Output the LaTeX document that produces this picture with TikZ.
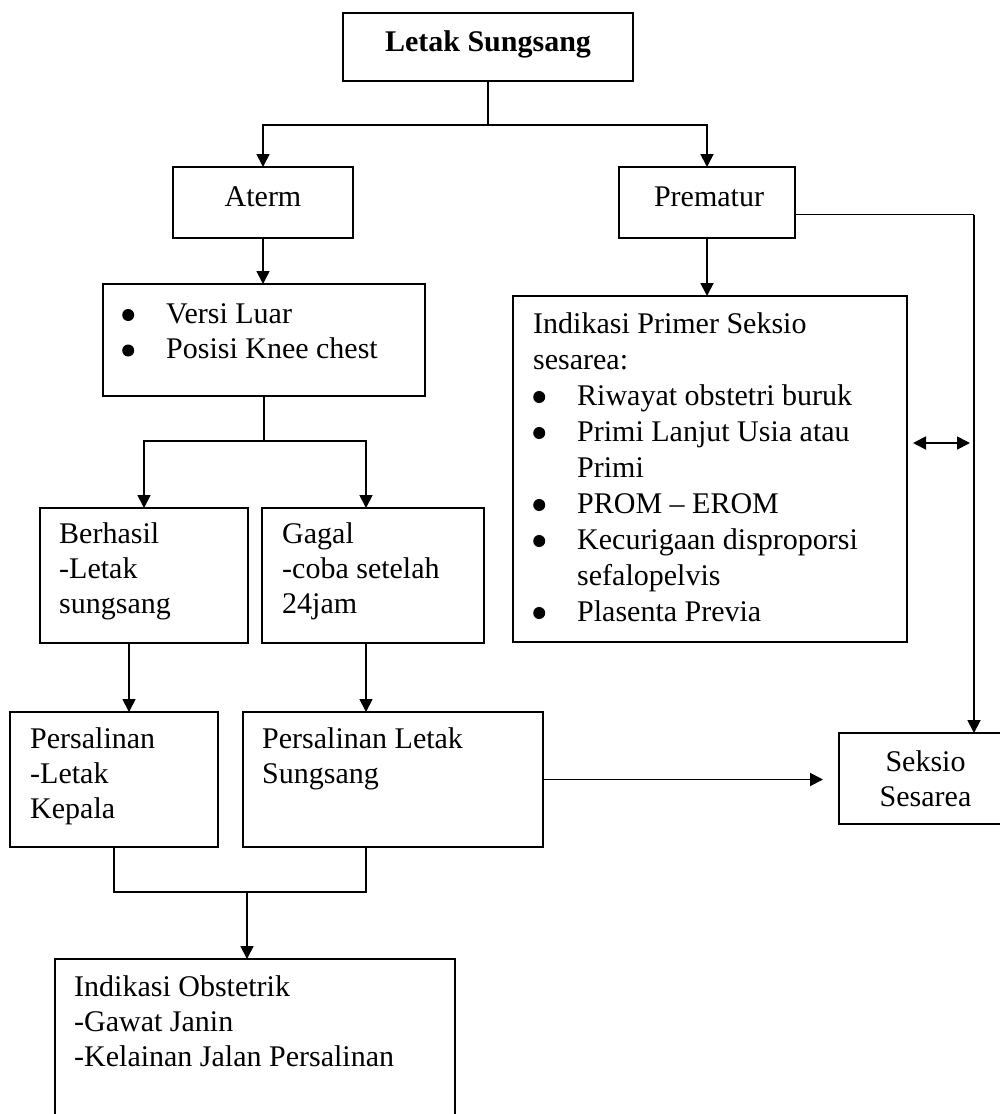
\documentclass[tikz,border=0pt]{standalone}
\usepackage{fontspec}
\setmainfont{Liberation Serif}
\usetikzlibrary{arrows.meta,calc}
\newcommand\bul{\makebox[44pt][l]{\tikz[x=1pt,y=1pt,baseline={(0,0)}]\fill (6,8) circle (6pt);}}
\begin{document}
\begin{tikzpicture}[x=1pt,y=-1pt,
  font=\fontsize{30}{35.5}\selectfont,
  box/.style={draw, line width=1.8pt, inner sep=0pt, outer sep=0pt},
  txt/.style={anchor=base west, inner sep=0pt},
  ctxt/.style={anchor=base, inner sep=0pt},
  ln/.style={line width=1.8pt},
  arr/.style={line width=1.8pt, -{Triangle[length=13pt,width=13pt]}},
  dblarr/.style={line width=1.8pt, {Triangle[length=13pt,width=13pt]}-{Triangle[length=13pt,width=13pt]}}]
\useasboundingbox (0,0) rectangle (1000,1114);
% boxes
\node[box, minimum width=290pt, minimum height=68pt] (top) at (488,47) {};
\node[box, minimum width=180pt, minimum height=71pt] (aterm) at (263,202.5) {};
\node[box, minimum width=176pt, minimum height=71pt] (premat) at (707,202.5) {};
\node[box, minimum width=322pt, minimum height=112pt] (versi) at (264,340) {};
\node[box, minimum width=394pt, minimum height=346pt] (primer) at (710,469) {};
\node[box, minimum width=208pt, minimum height=135pt] (berhasil) at (144,575.5) {};
\node[box, minimum width=222pt, minimum height=135pt] (gagal) at (373,575.5) {};
\node[box, minimum width=208pt, minimum height=135pt] (kepala) at (114,779.5) {};
\node[box, minimum width=300pt, minimum height=135pt] (plsung) at (393,779.5) {};
\node[box, minimum width=172pt, minimum height=91pt] (seksio) at (925,778.5) {};
\node[box, minimum width=400pt, minimum height=170pt] (obst) at (255,1044) {};
% texts
\node[ctxt, font=\fontsize{30}{35.5}\selectfont\bfseries] (tTop) at (488,51) {Letak Sungsang};
\node[ctxt] (tAterm) at (263,206) {Aterm};
\node[ctxt] (tPremat) at (709,206) {Prematur};
\node[txt] (tVersi) at (122,323) {\begin{tabular}[t]{@{}l@{}}\bul Versi Luar\\\bul Posisi Knee chest\end{tabular}};
\node[txt, font=\fontsize{30}{36}\selectfont] (tPrimer) at (533,333) {\begin{tabular}[t]{@{}l@{}}Indikasi Primer Seksio\\sesarea:\\\bul Riwayat obstetri buruk\\\bul Primi Lanjut Usia atau\\\hspace*{44pt}Primi\\\bul PROM – EROM\\\bul Kecurigaan disproporsi\\\hspace*{44pt}sefalopelvis\\\bul Plasenta Previa\end{tabular}};
\node[txt, font=\fontsize{30}{35}\selectfont] (tBerhasil) at (59,543) {\begin{tabular}[t]{@{}l@{}}Berhasil\\-Letak\\sungsang\end{tabular}};
\node[txt, font=\fontsize{30}{35}\selectfont] (tGagal) at (282,543) {\begin{tabular}[t]{@{}l@{}}Gagal\\-coba setelah\\24jam\end{tabular}};
\node[txt, font=\fontsize{30}{35}\selectfont] (tKepala) at (30,748) {\begin{tabular}[t]{@{}l@{}}Persalinan\\-Letak\\Kepala\end{tabular}};
\node[txt, font=\fontsize{30}{35}\selectfont] (tPlsung) at (262,748) {\begin{tabular}[t]{@{}l@{}}Persalinan Letak\\Sungsang\end{tabular}};
\node[ctxt, font=\fontsize{30}{35}\selectfont] (tSeksio) at (925.5,771) {\begin{tabular}[t]{@{}c@{}}Seksio\\Sesarea\end{tabular}};
\node[txt, font=\fontsize{30}{35}\selectfont] (tObst) at (74,996) {\begin{tabular}[t]{@{}l@{}}Indikasi Obstetrik\\-Gawat Janin\\-Kelainan Jalan Persalinan\end{tabular}};
% connectors
\draw[arr] (top.south) -- ++(0,44) -| (aterm.north);
\draw[arr] (top.south) -- ++(0,44) -| (premat.north);
\draw[arr] (aterm.south) -- (aterm.south |- versi.north);
\draw[arr] (premat.south) -- (premat.south |- primer.north);
\draw[ln] ($(premat.east)+(0,12)$) -- ++(179,0) coordinate (rv);
\draw[arr] (rv) -- (rv |- seksio.north);
\draw[dblarr] ($(primer.east)+(6,-26)$) -- ($(rv |- primer.east)+(-4,-26)$);
\draw[arr] (versi.south) -- ++(0,45) -| (berhasil.north);
\draw[arr] (versi.south) -- ++(0,45) -| ($(gagal.north)+(-7,0)$);
\draw[arr] ($(berhasil.south)+(-15,0)$) -- ($(kepala.north)+(15,0)$);
\draw[arr] ($(gagal.south)+(-7,0)$) -- ($(plsung.north)+(-27,0)$);
\draw[arr] (plsung.east) -- ($(plsung.east -| seksio.west)+(-16,0)$);
\draw[ln] (kepala.south) -- ++(0,45) -| ($(plsung.south)+(-27,0)$);
\draw[arr] ($(obst.north)+(-8,-67)$) -- ($(obst.north)+(-8,0)$);
\end{tikzpicture}
\end{document}
